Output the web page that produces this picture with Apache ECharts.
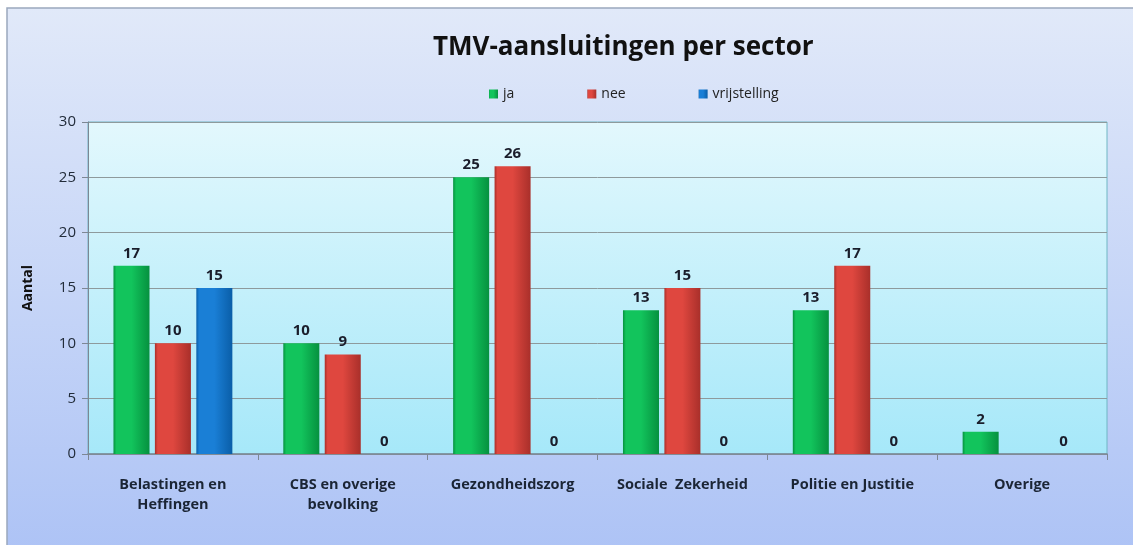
<!DOCTYPE html>
<html>
<head>
<meta charset="utf-8">
<script src="https://cdn.jsdelivr.net/npm/echarts@6/dist/echarts.min.js"></script>
<style>
    html, body { margin: 0; padding: 0; background: #fff; }
    #chart { width: 1133px; height: 545px; }
</style>
</head>
<body>
<div id="chart"></div>
<script>
// sectoren en aantallen
const sectors = ['Belastingen en\nHeffingen', 'CBS en overige\nbevolking', 'Gezondheidszorg', 'Sociale  Zekerheid', 'Politie en Justitie', 'Overige'];
const ja = [17, 10, 25, 13, 13, 2];
const nee = [10, 9, 26, 15, 17, null];
const vrijstelling = [15, 0, 0, 0, 0, 0];
const yTicks = { min: 0, max: 30, interval: 5 };

const font = '"Open Sans", sans-serif';
const chart = echarts.init(document.getElementById('chart'));

// 3D-achtige balk: donkere randen, lichter midden
const barFill = (dark, light) => new echarts.graphic.LinearGradient(0, 0, 1, 0, [
    { offset: 0, color: dark },
    { offset: 0.08, color: light },
    { offset: 0.5, color: light },
    { offset: 1, color: dark }
]);

const labelStyle = {
    show: true,
    position: 'top',
    distance: 5,
    fontFamily: font,
    fontWeight: 'bold',
    fontSize: 15,
    color: '#1a1d2b'
};

const makeSeries = (name, data, dark, light) => ({
    name: name,
    type: 'bar',
    data: data,
    barGap: '15%',
    barCategoryGap: '30%',
    itemStyle: {
        color: barFill(dark, light),
        borderWidth: 0
    },
    label: labelStyle
});

const option = {
    animation: false,
    backgroundColor: '#ffffff',
    graphic: [{
        type: 'rect',
        z: -10,
        shape: { x: 7, y: 8, width: 1200, height: 600 },
        style: {
            fill: new echarts.graphic.LinearGradient(0, 0, 0, 1, [
                { offset: 0, color: '#e1e9f9' },
                { offset: 1, color: '#a8bff5' }
            ]),
            stroke: '#9aa8bd',
            lineWidth: 1.5
        }
    }],
    title: {
        text: 'TMV-aansluitingen per sector',
        left: 428,
        top: 30,
        textStyle: {
            fontFamily: font,
            fontWeight: 'bold',
            fontSize: 26,
            color: '#111111'
        }
    },
    legend: {
        left: 484,
        top: 82,
        itemGap: 73,
        itemWidth: 9,
        itemHeight: 9,
        icon: 'rect',
        textStyle: { fontFamily: font, fontSize: 14, color: '#222222' },
        data: ['ja', 'nee', 'vrijstelling']
    },
    grid: {
        left: 88,
        right: 26,
        top: 122,
        bottom: 91,
        show: true,
        borderColor: '#6fb6c4',
        borderWidth: 1,
        backgroundColor: new echarts.graphic.LinearGradient(0, 0, 0, 1, [
            { offset: 0, color: '#e3f8fd' },
            { offset: 1, color: '#a6e8f9' }
        ])
    },
    xAxis: {
        type: 'category',
        data: sectors,
        axisLine: { lineStyle: { color: '#7d8794', width: 1.5 } },
        axisTick: { show: true, interval: 0, length: 6, lineStyle: { color: '#7d8794' } },
        axisLabel: {
            interval: 0,
            hideOverlap: false,
            margin: 21,
            fontFamily: font,
            fontWeight: 'bold',
            fontSize: 14.5,
            lineHeight: 20,
            color: '#1b2535'
        }
    },
    yAxis: {
        type: 'value',
        min: yTicks.min,
        max: yTicks.max,
        interval: yTicks.interval,
        name: 'Aantal',
        nameLocation: 'middle',
        nameRotate: 90,
        nameGap: 53,
        nameTextStyle: { fontFamily: font, fontWeight: 'bold', fontSize: 14, color: '#111111' },
        axisLine: { show: true, lineStyle: { color: '#7d8794' } },
        axisTick: { show: true, length: 6, lineStyle: { color: '#7d8794' } },
        axisLabel: { margin: 12, fontFamily: font, fontSize: 15, color: '#222c3a' },
        splitLine: { lineStyle: { color: '#8e9a9c', width: 1 } }
    },
    series: [
        makeSeries('ja', ja, '#06913f', '#12c45c'),
        makeSeries('nee', nee, '#a92f2a', '#df473f'),
        makeSeries('vrijstelling', vrijstelling, '#0a5ea8', '#1a7fd6')
    ]
};

chart.setOption(option);
</script>
</body>
</html>
